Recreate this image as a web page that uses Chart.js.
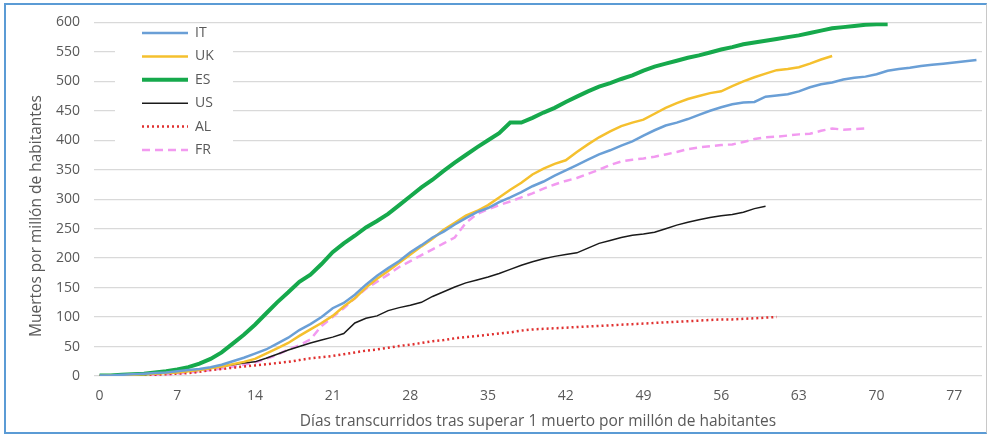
<!DOCTYPE html>
<html>
<head>
<meta charset="utf-8">
<script src="https://cdn.jsdelivr.net/npm/chart.js@4.4.0/dist/chart.umd.min.js"></script>
<style>
  html, body { margin: 0; padding: 0; background: #fff; }
  #wrap { position: relative; width: 991px; height: 434px; }
  #frame { position: absolute; left: 4px; top: 3px; width: 980px; height: 427px;
           border: 2px solid #5B9BD5; border-right: 1px solid #c8c8c8; box-sizing: content-box; }
  canvas { position: absolute; left: 0; top: 0; }
</style>
</head>
<body>
<div id="wrap">
  <div id="frame"></div>
  <canvas id="chart" width="991" height="434"></canvas>
</div>
<script>
// days since 1 death per million (0..79)
var days = [];
for (var d = 0; d <= 79; d++) days.push(String(d));

// deaths per million
var it = [1,1,2,3,4,5,6,8,10,12,15,19,25,31,38,45,55,65,78,88,100,115,124,138,155,170,183,195,210,222,
  235,245,257,268,278,285,295,303,312,322,330,340,349,358,367,376,383,391,398,408,417,425,430,436,443,450,456,461,464,465,
  474,476,478,483,490,495,498,503,506,508,512,518,521,523,526,528,530,532,534,536];
var uk = [0,1,1,2,3,4,5,6,8,10,13,16,20,24,29,38,47,56,68,79,90,102,118,132,150,165,178,192,206,220,
  233,248,260,272,280,290,303,316,328,342,352,360,366,380,393,405,415,424,430,435,445,455,463,470,475,480,483,492,500,507,
  513,519,521,524,530,537,543];
var es = [1,1,2,3,4,6,8,11,15,21,29,40,55,70,87,106,125,142,160,172,190,210,225,238,252,263,275,290,305,320,
  333,348,362,375,388,400,412,430,430,438,447,455,465,474,483,491,497,504,510,518,525,530,535,540,544,549,554,558,563,566,
  569,572,575,578,582,586,590,592,594,596,597,597];
var us = [0,1,1,2,3,4,5,6,8,10,13,16,19,22,24,30,37,44,50,56,61,66,72,90,98,102,111,116,120,125,
  135,143,151,158,163,168,174,181,188,194,199,203,206,209,217,225,230,235,239,241,244,250,256,261,265,269,272,274,278,284,
  288];
var al = [0,0,1,1,2,2,3,4,5,7,10,12,14,16,18,20,22,24,27,30,32,34,37,40,43,45,48,51,53,56,
  59,61,64,66,68,70,72,74,77,79,80,81,82,83,84,85,86,87,88,89,90,91,92,93,94,95,96,96,97,98,
  99,100];
var fr = [0,0,1,1,2,2,3,4,6,8,10,13,16,19,23,29,36,45,52,62,85,100,115,132,148,160,172,185,195,205,
  215,225,235,260,275,283,290,296,303,310,318,325,331,336,343,350,358,364,367,369,372,376,380,385,388,390,392,393,397,402,
  405,406,408,410,411,416,420,418,419,420];

var yTicks = [0,50,100,150,200,250,300,350,400,450,500,550,600];

var txt = '#595959';
var font = "'Open Sans', sans-serif";

// legend box inside the plot, drawn from the datasets
var boxLegend = {
  id: 'boxLegend',
  afterDatasetsDraw: function(chart) {
    var ctx = chart.ctx;
    ctx.save();
    ctx.fillStyle = '#fff';
    ctx.fillRect(115, 26, 118, 136);
    chart.data.datasets.forEach(function(ds, i) {
      var y = 33 + i * 23.4;
      ctx.beginPath();
      ctx.strokeStyle = ds.borderColor;
      ctx.lineWidth = ds.borderWidth;
      ctx.setLineDash(ds.borderDash || []);
      ctx.moveTo(142, y);
      ctx.lineTo(188, y);
      ctx.stroke();
      ctx.setLineDash([]);
      ctx.fillStyle = txt;
      ctx.font = '14px ' + font;
      ctx.textBaseline = 'middle';
      ctx.fillText(ds.label, 195, y);
    });
    ctx.restore();
  }
};

// y axis title
var yTitle = {
  id: 'yTitle',
  afterDraw: function(chart) {
    var ctx = chart.ctx;
    ctx.save();
    ctx.translate(37, 216);
    ctx.rotate(-Math.PI / 2);
    ctx.fillStyle = txt;
    ctx.font = '15.5px ' + font;
    ctx.textAlign = 'center';
    ctx.textBaseline = 'middle';
    ctx.fillText('Muertos por millón de habitantes', 0, 0);
    ctx.restore();
  }
};

function line(label, data, color, width, dash) {
  return {
    label: label,
    data: data,
    borderColor: color,
    backgroundColor: color,
    borderWidth: width,
    borderDash: dash,
    pointRadius: 0,
    tension: 0,
    fill: false
  };
}

var config = {
  type: 'line',
  data: {
    labels: days,
    datasets: [
      line('IT', it, '#6A9FD6', 2.5, []),
      line('UK', uk, '#F5C02E', 2.5, []),
      line('ES', es, '#16A94C', 4, []),
      line('US', us, '#1a1a1a', 1.5, []),
      line('AL', al, '#E0302F', 2.5, [2, 3]),
      line('FR', fr, '#F29AF0', 2.5, [8, 5])
    ]
  },
  options: {
    responsive: false,
    animation: false,
    layout: { padding: { top: 22, right: 9, left: 0, bottom: 0 } },
    plugins: {
      legend: { display: false },
      tooltip: { enabled: false }
    },
    scales: {
      x: {
        type: 'category',
        offset: true,
        grid: { display: false, drawTicks: false },
        border: { display: false },
        ticks: {
          autoSkip: false,
          maxRotation: 0,
          padding: 12,
          color: txt,
          font: { family: font, size: 14 },
          callback: function(value, index) {
            return index % 7 === 0 ? this.getLabelForValue(value) : null;
          }
        },
        title: {
          display: true,
          text: 'Días transcurridos tras superar 1 muerto por millón de habitantes',
          color: txt,
          font: { family: font, size: 15.5 },
          padding: { top: 0, bottom: 3 }
        },
        afterFit: function(s) { s.height = 58; }
      },
      y: {
        min: 0,
        max: 600,
        afterBuildTicks: function(s) {
          s.ticks = yTicks.map(function(v) { return { value: v }; });
        },
        grid: { color: '#D9D9D9', lineWidth: 1.3, drawTicks: false },
        border: { display: false },
        ticks: {
          padding: 14,
          color: txt,
          font: { family: font, size: 14 }
        },
        afterFit: function(s) { s.width = 94; }
      }
    }
  },
  plugins: [boxLegend, yTitle]
};

var ctx = document.getElementById('chart').getContext('2d');
window.myLine = new Chart(ctx, config);
</script>
</body>
</html>
